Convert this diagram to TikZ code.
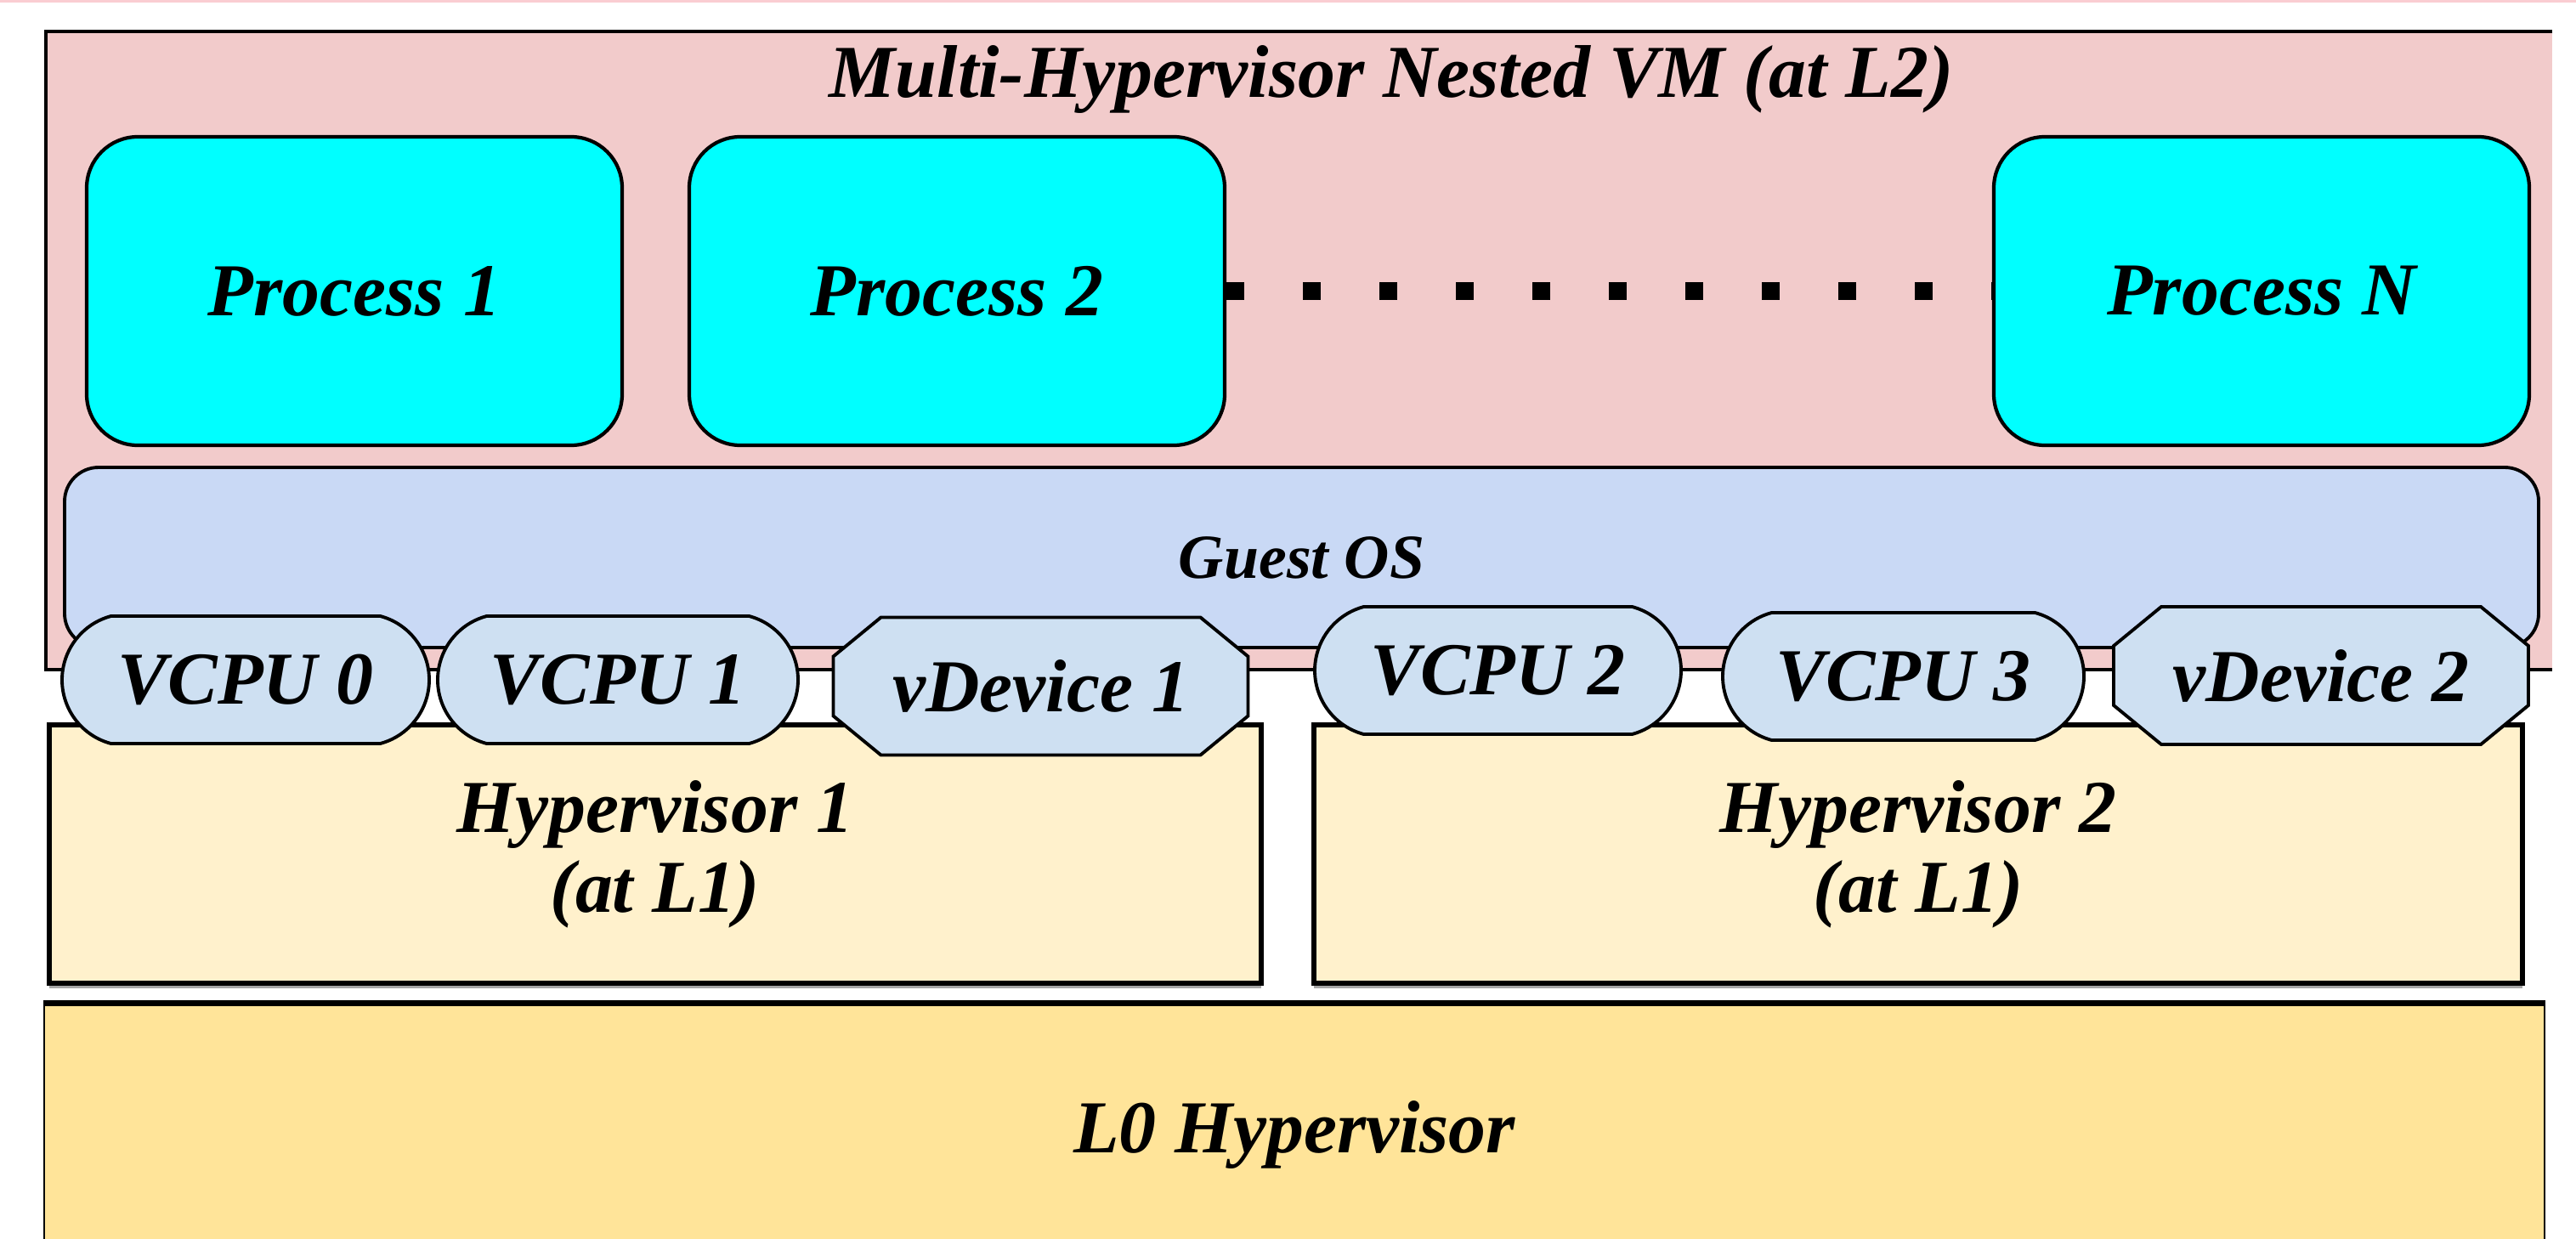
\documentclass[tikz,border=0pt]{standalone}
\usepackage{fontspec}
\setmainfont{Liberation Serif}
\usetikzlibrary{shapes.misc,positioning,shadows}

\definecolor{vmpink}{RGB}{242,203,203}
\definecolor{edgepink}{RGB}{250,205,210}
\definecolor{proccyan}{RGB}{0,255,255}
\definecolor{guestblue}{RGB}{201,217,245}
\definecolor{vcpublue}{RGB}{206,224,242}
\definecolor{hypyellow}{RGB}{255,241,204}
\definecolor{lzeroyellow}{RGB}{255,228,153}

\newcommand{\bigtxt}{\fontsize{25}{26.8}\selectfont\bfseries\itshape}
\newcommand{\midtxt}{\fontsize{21}{22}\selectfont\bfseries\itshape}
% octagon outline of a virtual device, around its centre
\newcommand{\vdevpath}{(-1.88,0.81) -- (1.88,0.81) -- (2.44,0.35) -- (2.44,-0.35) -- (1.88,-0.81) -- (-1.88,-0.81) -- (-2.44,-0.35) -- (-2.44,0.35) -- cycle}

\begin{document}
\begin{tikzpicture}[
    vmbox/.style={rectangle, fill=vmpink, inner sep=0pt, outer sep=0pt, minimum width=29.49cm, minimum height=7.51cm},
    process/.style={rectangle, draw, line width=1.2pt, rounded corners=0.6cm, fill=proccyan, minimum width=6.3cm, minimum height=3.63cm, font=\bigtxt},
    guestos/.style={rectangle, draw, line width=1.1pt, rounded corners=0.4cm, fill=guestblue, minimum width=29.11cm, minimum height=2.12cm, font=\midtxt},
    vcpu/.style={rounded rectangle, rounded rectangle arc length=150, draw, line width=1.1pt, fill=vcpublue, inner sep=0pt, minimum height=1.5cm, font=\bigtxt},
    vdevline/.style={draw, line width=1.1pt, fill=vcpublue, line join=miter},
    vdev/.style={rectangle, inner sep=0pt, minimum width=4.88cm, minimum height=1.62cm, font=\bigtxt},
    hyp/.style={rectangle, draw, line width=1.5pt, fill=hypyellow, minimum height=3.04cm, align=center, font=\bigtxt, drop shadow={shadow xshift=0pt, shadow yshift=-1.6pt, fill=black!35, opacity=1}},
    lzero/.style={rectangle, draw, line width=0.8pt, fill=lzeroyellow, minimum width=29.42cm, minimum height=3.06cm, font=\bigtxt},
    dotline/.style={line width=0.21cm, dash pattern=on 0.21cm off 0.69cm}
]
    \useasboundingbox (0,0) rectangle (30.31,-14.58);
    \fill[edgepink] (0,0) rectangle (30.31,-0.03);

    % Nested VM
    \node[vmbox] (vm) at (15.285,-4.125) {};
    \draw[line width=1pt] (vm.north east) -- (vm.north west) -- (vm.south west) -- (vm.south east);
    \node[font=\bigtxt, anchor=base] (title) at (16.37,-1.15) {Multi-Hypervisor Nested VM (at L2)};

    % Processes
    \node[process] (p1) at (4.17,-3.425) {Process 1};
    \node[process] (p2) at (11.26,-3.425) {Process 2};
    \node[process] (pn) at (26.61,-3.425) {Process N};
    \draw[dotline] (p2.east) -- (pn.west);

    \node[guestos] (guest) at (15.315,-6.56) {Guest OS};

    % Hypervisors
    \node[hyp, minimum width=14.26cm] (hyp1) at (7.71,-10.05) {Hypervisor 1\\(at L1)};
    \node[hyp, minimum width=14.22cm] (hyp2) at (22.57,-10.05) {Hypervisor 2\\(at L1)};
    \node[lzero] (l0) at (15.23,-13.35) {L0 Hypervisor};
    \draw[line width=2pt] (l0.north west) -- (l0.north east);

    % Virtual CPUs and devices
    \node[vcpu, minimum width=4.32cm] (vcpu0) at (2.89,-8.00) {VCPU 0};
    \node[vcpu, minimum width=4.24cm] (vcpu1) at (7.27,-8.00) {VCPU 1};
    \filldraw[vdevline, shift={(12.245,-8.075)}] \vdevpath;
    \node[vdev] (vdev1) at (12.245,-8.075) {vDevice 1};
    \node[vcpu, minimum width=4.31cm] (vcpu2) at (17.625,-7.89) {VCPU 2};
    \node[vcpu, minimum width=4.25cm] (vcpu3) at (22.395,-7.96) {VCPU 3};
    \filldraw[vdevline, shift={(27.31,-7.95)}] \vdevpath;
    \node[vdev] (vdev2) at (27.31,-7.95) {vDevice 2};
\end{tikzpicture}
\end{document}
